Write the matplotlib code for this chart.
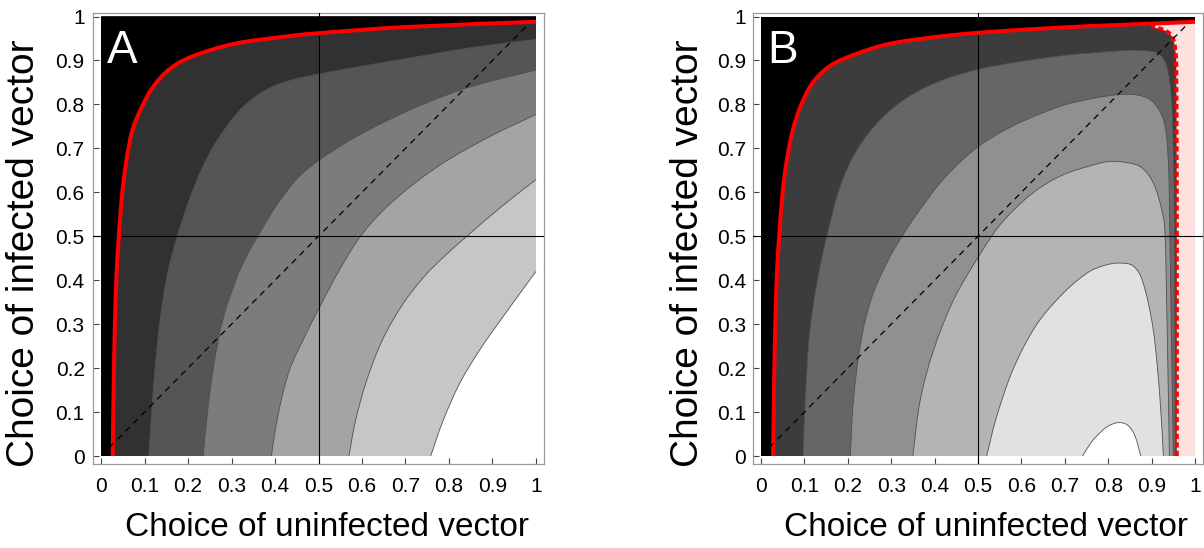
import matplotlib
matplotlib.use('Agg')
import matplotlib.pyplot as plt
from matplotlib.path import Path
from matplotlib.patches import PathPatch

plt.rcParams['font.family'] = ['Liberation Sans', 'DejaVu Sans']

# ---------------- data ----------------
tick_values = [0, 0.1, 0.2, 0.3, 0.4, 0.5, 0.6, 0.7, 0.8, 0.9, 1]
tick_labels = ['0', '0.1', '0.2', '0.3', '0.4', '0.5', '0.6', '0.7', '0.8', '0.9', '1']
x_label = 'Choice of uninfected vector'
y_label = 'Choice of infected vector'
panel_letters = ['A', 'B']
diagonal = [0.02, 0.98]

# Panel A: contour boundaries (bottom edge -> right edge), darkest first
a_red_x = [0.027, 0.029, 0.032, 0.036, 0.041, 0.048, 0.058, 0.072, 0.092, 0.120, 0.160, 0.215, 0.307, 0.421, 0.500, 0.700, 1.0]
a_red_y = [0.0, 0.150, 0.300, 0.420, 0.500, 0.590, 0.670, 0.740, 0.790, 0.840, 0.882, 0.911, 0.938, 0.954, 0.962, 0.976, 0.988]
a_b2_x = [0.110, 0.118, 0.128, 0.140, 0.155, 0.175, 0.200, 0.230, 0.268, 0.322, 0.383, 0.440, 0.500, 0.600, 0.741, 0.856, 1.0]
a_b2_y = [0.0, 0.120, 0.240, 0.340, 0.425, 0.499, 0.575, 0.650, 0.720, 0.790, 0.835, 0.856, 0.869, 0.887, 0.911, 0.930, 0.948]
a_b3_x = [0.235, 0.245, 0.260, 0.280, 0.310, 0.335, 0.360, 0.400, 0.450, 0.500, 0.575, 0.664, 0.750, 0.856, 1.0]
a_b3_y = [0.0, 0.100, 0.210, 0.310, 0.400, 0.455, 0.499, 0.565, 0.630, 0.672, 0.720, 0.766, 0.804, 0.842, 0.878]
a_b4_x = [0.392, 0.400, 0.415, 0.435, 0.465, 0.500, 0.545, 0.595, 0.650, 0.720, 0.800, 0.900, 1.0]
a_b4_y = [0.0, 0.055, 0.130, 0.200, 0.265, 0.334, 0.418, 0.498, 0.560, 0.620, 0.675, 0.730, 0.777]
a_b5_x = [0.570, 0.585, 0.610, 0.645, 0.690, 0.740, 0.790, 0.841, 0.920, 1.0]
a_b5_y = [0.0, 0.080, 0.170, 0.260, 0.340, 0.405, 0.455, 0.500, 0.567, 0.629]
a_b6_x = [0.758, 0.787, 0.825, 0.871, 0.925, 1.0]
a_b6_y = [0.0, 0.082, 0.166, 0.242, 0.318, 0.420]
a_colors = ['#000000', '#313131', '#555555', '#7c7c7c', '#a4a4a4', '#c6c6c6']

# Panel B: red boundary (bottom -> right edge), dashed red limit, closed inner contours
b_red_x = [0.028, 0.030, 0.033, 0.037, 0.042, 0.049, 0.059, 0.073, 0.093, 0.120, 0.160, 0.220, 0.297, 0.400, 0.502, 0.674, 0.827, 0.930, 1.0]
b_red_y = [0.0, 0.150, 0.300, 0.420, 0.500, 0.590, 0.670, 0.740, 0.800, 0.850, 0.888, 0.915, 0.938, 0.953, 0.963, 0.974, 0.981, 0.985, 0.988]
b_dash_x = [0.958, 0.958, 0.957, 0.956, 0.950, 0.935, 0.900]
b_dash_y = [0.0, 0.5, 0.85, 0.909, 0.947, 0.966, 0.978]
b_b2_x = [0.097, 0.102, 0.112, 0.129, 0.151, 0.182, 0.220, 0.274, 0.336, 0.412, 0.502, 0.600, 0.704, 0.800, 0.858, 0.912, 0.935, 0.946, 0.950, 0.953, 0.954, 0.955]
b_b2_y = [0.0, 0.128, 0.280, 0.394, 0.498, 0.612, 0.695, 0.764, 0.815, 0.853, 0.880, 0.898, 0.912, 0.920, 0.923, 0.917, 0.886, 0.811, 0.697, 0.500, 0.250, 0.0]
b_b3_x = [0.206, 0.213, 0.230, 0.255, 0.290, 0.324, 0.360, 0.410, 0.460, 0.502, 0.550, 0.604, 0.704, 0.820, 0.881, 0.912, 0.931, 0.939, 0.942, 0.946, 0.950]
b_b3_y = [0.0, 0.128, 0.260, 0.360, 0.440, 0.498, 0.552, 0.618, 0.670, 0.705, 0.735, 0.762, 0.800, 0.822, 0.818, 0.795, 0.750, 0.659, 0.507, 0.250, 0.0]
b_b4_x = [0.350, 0.367, 0.398, 0.444, 0.502, 0.550, 0.604, 0.650, 0.704, 0.780, 0.820, 0.873, 0.904, 0.923, 0.931, 0.936, 0.941]
b_b4_y = [0.0, 0.128, 0.242, 0.356, 0.455, 0.525, 0.580, 0.615, 0.643, 0.666, 0.670, 0.659, 0.621, 0.561, 0.500, 0.280, 0.0]
b_b5_x = [0.520, 0.543, 0.582, 0.635, 0.697, 0.751, 0.789, 0.823, 0.858, 0.881, 0.904, 0.919, 0.927]
b_b5_y = [0.0, 0.090, 0.200, 0.299, 0.371, 0.416, 0.433, 0.439, 0.432, 0.392, 0.286, 0.135, 0.0]
b_b6_x = [0.741, 0.760, 0.780, 0.800, 0.823, 0.845, 0.862, 0.875]
b_b6_y = [0.0, 0.030, 0.052, 0.068, 0.076, 0.070, 0.045, 0.0]
b_colors = ['#000000', '#3c3c3c', '#666666', '#909090', '#b4b4b4', '#e1e1e1', '#ffffff']
pink = '#fde0e0'

# ---------------- figure ----------------
W, H = 1204, 548
fig = plt.figure(figsize=(W / 100, H / 100), dpi=100)


def px_axes(l, t, r, b):
    return fig.add_axes([l / W, 1 - b / H, (r - l) / W, (b - t) / H])


axA = px_axes(93, 13, 544, 464)
axB = px_axes(753, 13, 1203, 464)

line_gray = '#505050'
red = '#ff0000'


def smooth(xs, ys):
    """Smooth Bezier path (Catmull-Rom style) through the read points."""
    pts = list(zip(xs, ys))
    n = len(pts)
    verts = [pts[0]]
    codes = [Path.MOVETO]
    for i in range(n - 1):
        p0 = pts[i - 1] if i > 0 else pts[i]
        p1 = pts[i]
        p2 = pts[i + 1]
        p3 = pts[i + 2] if i + 2 < n else pts[i + 1]
        c1 = (p1[0] + (p2[0] - p0[0]) / 6, p1[1] + (p2[1] - p0[1]) / 6)
        c2 = (p2[0] - (p3[0] - p1[0]) / 6, p2[1] - (p3[1] - p1[1]) / 6)
        verts += [c1, c2, p2]
        codes += [Path.CURVE4] * 3
    return verts, codes


def fill_curve(ax, xs, ys, extra, color, z=1):
    verts, codes = smooth(xs, ys)
    for p in extra:
        verts.append(p)
        codes.append(Path.LINETO)
    verts.append(verts[0])
    codes.append(Path.CLOSEPOLY)
    ax.add_patch(PathPatch(Path(verts, codes), facecolor=color, edgecolor='none', lw=0, zorder=z))


def line_curve(ax, xs, ys, color, lw, ls='-', z=2):
    verts, codes = smooth(xs, ys)
    ax.add_patch(PathPatch(Path(verts, codes), facecolor='none', edgecolor=color, lw=lw,
                           linestyle=ls, capstyle='butt', zorder=z))


def style(ax, ypad):
    ax.set_xlim(-0.0184, 1.0184)
    ax.set_ylim(-0.0182, 1.008)
    ax.set_xticks(tick_values)
    ax.set_xticklabels(tick_labels)
    ax.set_yticks(tick_values)
    ax.set_yticklabels(tick_labels)
    ax.tick_params(axis='both', direction='in', length=4.5, width=0.8, color='#444444',
                   labelsize=15, top=False, right=False)
    ax.tick_params(axis='x', pad=9)
    ax.tick_params(axis='y', pad=ypad)
    for s in ax.spines.values():
        s.set_color('#9a9a9a')
        s.set_linewidth(0.9)


# ----- Panel A -----
bounds_a = [(a_b6_x, a_b6_y), (a_b5_x, a_b5_y), (a_b4_x, a_b4_y),
            (a_b3_x, a_b3_y), (a_b2_x, a_b2_y), (a_red_x, a_red_y)]
fill_cols_a = a_colors[::-1]
for (bx, by), col in zip(bounds_a, fill_cols_a):
    fill_curve(axA, bx, by, [(1, 1), (0, 1), (0, 0)], col)
for bx, by in bounds_a[:-1]:
    line_curve(axA, bx, by, line_gray, 0.6)
axA.axvline(0.5, color='black', lw=0.8, zorder=3)
axA.axhline(0.5, color='black', lw=0.8, zorder=3)
line_curve(axA, a_red_x, a_red_y, red, 2.9, z=4)
axA.plot(diagonal, diagonal, color='black', lw=0.9, ls=(0, (5, 4)), zorder=5)
style(axA, 6)

# ----- Panel B -----
axB.fill([0, 1, 1, 0], [0, 0, 1, 1], color=b_colors[0], lw=0, zorder=1)
fill_curve(axB, b_red_x, b_red_y, [(1, 0)], b_colors[1])
last_dx = b_dash_x[-1]
pk_x = list(b_dash_x) + [x for x in b_red_x if x > last_dx]
pk_y = list(b_dash_y) + [y for x, y in zip(b_red_x, b_red_y) if x > last_dx]
fill_curve(axB, pk_x, pk_y, [(1, 0)], pink)
inner_b = [(b_b2_x, b_b2_y), (b_b3_x, b_b3_y), (b_b4_x, b_b4_y), (b_b5_x, b_b5_y), (b_b6_x, b_b6_y)]
for (bx, by), col in zip(inner_b, b_colors[2:]):
    fill_curve(axB, bx, by, [], col)
    line_curve(axB, bx, by, line_gray, 0.6)
axB.axvline(0.5, color='black', lw=0.8, zorder=3)
axB.axhline(0.5, color='black', lw=0.8, zorder=3)
line_curve(axB, b_red_x, b_red_y, red, 2.9, z=4)
line_curve(axB, b_dash_x, b_dash_y, red, 2.9, ls=(0, (1.3, 0.8)), z=4)
axB.plot(diagonal, diagonal, color='black', lw=0.9, ls=(0, (5, 4)), zorder=5)
style(axB, 5)

for ax, letter in zip([axA, axB], panel_letters):
    ax.text(0.014, 0.894, letter, color='white', fontsize=33, ha='left', va='baseline', zorder=6)

# axis labels
for cx in (327, 986):
    fig.text(cx / W, 1 - 527 / H, x_label, fontsize=24, ha='center', va='center')
for cx in (24, 688):
    fig.text(cx / W, 1 - 253 / H, y_label, fontsize=28, rotation=90, ha='center', va='center')

fig.savefig('out.png', dpi=100)
